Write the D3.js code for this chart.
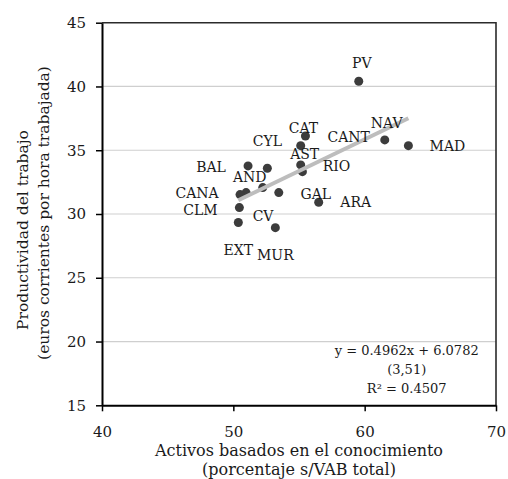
<!DOCTYPE html>
<html>
<head>
<meta charset="utf-8">
<script src="https://cdn.jsdelivr.net/npm/d3@7"></script>
<style>
	body { margin: 0; background: #fff; }
	svg text { font-family: "DejaVu Serif", "Liberation Serif", serif; fill: #1a1a1a; }
</style>
</head>
<body>
<div id="chart"></div>
<script>
// --- DATA --- //
var regions = ["PV", "NAV", "MAD", "CAT", "CANT", "BAL", "CYL", "AST", "RIO",
	"AND", "GAL", "CV", "CANA", "CLM", "EXT", "MUR", "ARA"];
// Activos basados en el conocimiento (% s/VAB total)
var activos = [59.55, 61.53, 63.33, 55.49, 55.13, 51.12, 52.59, 55.13, 55.26,
	52.24, 53.46, 50.97, 50.51, 50.46, 50.38, 53.2, 56.5];
// Productividad del trabajo (euros corrientes por hora trabajada)
var productividad = [40.41, 35.81, 35.36, 36.12, 35.36, 33.77, 33.59, 33.85, 33.32,
	32.07, 31.68, 31.68, 31.52, 30.5, 29.33, 28.93, 30.92];
var xTicks = [40, 50, 60, 70];
var yTicks = [15, 20, 25, 30, 35, 40, 45];
// trend line as printed on the chart
var slope = 0.4962, intercept = 6.0782;
var eqLines = ["y = 0.4962x + 6.0782", "(3,51)", "R\u00b2 = 0.4507"];

// label placement (px offset from each dot), same order as regions
var labelOffset = [[3, -13], [2, -12], [39, 5], [-2, -3], [48, -4], [-37, 6], [0, -22],
	[4, -6], [34, -1], [-13, -6], [37, 6], [17, 28], [-43, 3], [-39, 7], [0, 32], [0, 32], [37, 5]];

var width = 508, height = 479,
	margin = {top: 22.7, right: 12, bottom: 73.7, left: 102};

var svg = d3.select("#chart").append("svg")
	.attr("width", width)
	.attr("height", height);

var x = d3.scaleLinear().domain([40, 70]).range([margin.left, width - margin.right]),
	y = d3.scaleLinear().domain([15, 45]).range([height - margin.bottom, margin.top]);

// --- GRID --- //
svg.append("g").selectAll("line").data(yTicks.slice(1, -1))
	.enter().append("line")
	.attr("x1", x(40)).attr("x2", x(70))
	.attr("y1", function(d) { return y(d); })
	.attr("y2", function(d) { return y(d); })
	.attr("stroke", "#cfcfcf")
	.attr("stroke-width", 1.2);

// plot border (top, right)
svg.append("path")
	.attr("d", "M" + x(40) + "," + y(45) + "H" + x(70) + "V" + y(15))
	.attr("fill", "none")
	.attr("stroke", "#2b2b2b")
	.attr("stroke-width", 1.6);

// --- AXES --- //
var xAxis = svg.append("g")
	.attr("transform", "translate(0," + y(15) + ")")
	.call(d3.axisBottom(x).tickValues(xTicks).tickSize(6).tickPadding(15).tickSizeOuter(0));
var yAxis = svg.append("g")
	.attr("transform", "translate(" + x(40) + ",0)")
	.call(d3.axisLeft(y).tickValues(yTicks).tickSize(6).tickPadding(10).tickSizeOuter(0));

[xAxis, yAxis].forEach(function(a) {
	a.select(".domain").attr("stroke", "#000").attr("stroke-width", 2);
	a.selectAll(".tick line").attr("stroke", "#000").attr("stroke-width", 1.5);
	a.selectAll(".tick text").attr("font-size", 15).attr("fill", "#1a1a1a")
		.style("font-family", "DejaVu Serif, serif");
});

// axis titles
function title(tx, ty, rot, size, str) {
	svg.append("text")
		.attr("transform", "translate(" + tx + "," + ty + ")" + (rot ? " rotate(-90)" : ""))
		.attr("text-anchor", "middle")
		.attr("font-size", size)
		.text(str);
}
title(x(55), 456, false, 16, "Activos basados en el conocimiento");
title(x(55), 475, false, 16, "(porcentaje s/VAB total)");
title(28, 230, true, 15.5, "Productividad del trabajo");
title(48.5, 213, true, 15.5, "(euros corrientes por hora trabajada)");

// --- POINTS --- //
var pts = regions.map(function(r, i) {
	return {name: r, x: activos[i], y: productividad[i], off: labelOffset[i]};
});

svg.append("g").selectAll("circle").data(pts)
	.enter().append("circle")
	.attr("cx", function(d) { return x(d.x); })
	.attr("cy", function(d) { return y(d.y); })
	.attr("r", 4.5)
	.attr("fill", "#3c3c3c");

// --- TREND LINE --- //
var xMin = d3.min(activos), xMax = d3.max(activos);
svg.append("line")
	.attr("x1", x(xMin)).attr("y1", y(slope * xMin + intercept))
	.attr("x2", x(xMax)).attr("y2", y(slope * xMax + intercept))
	.attr("stroke", "#bdbdbd")
	.attr("stroke-width", 4);

// --- LABELS --- //
svg.append("g").selectAll("text").data(pts)
	.enter().append("text")
	.attr("x", function(d) { return x(d.x) + d.off[0]; })
	.attr("y", function(d) { return y(d.y) + d.off[1]; })
	.attr("text-anchor", "middle")
	.attr("font-size", 14)
	.text(function(d) { return d.name; });

// equation
svg.append("g").selectAll("text").data(eqLines)
	.enter().append("text")
	.attr("x", 406.7)
	.attr("y", function(d, i) { return 355 + i * 19; })
	.attr("text-anchor", "middle")
	.attr("font-size", 13)
	.text(function(d) { return d; });
</script>
</body>
</html>
